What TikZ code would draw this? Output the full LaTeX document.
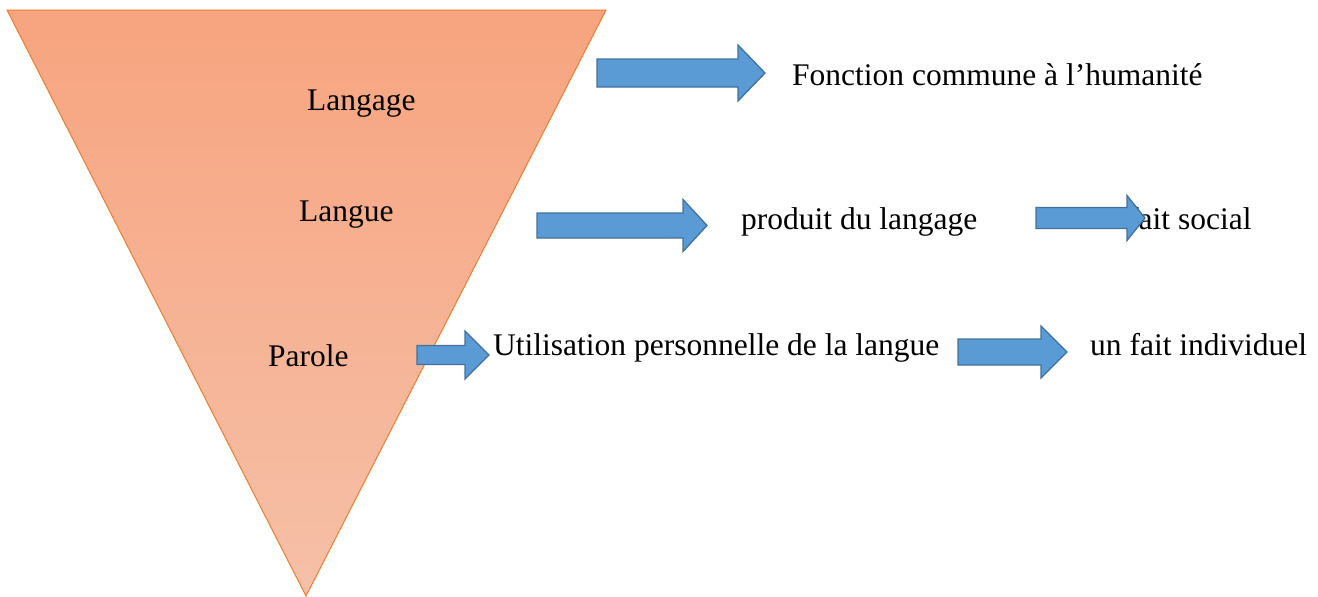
\documentclass[tikz,border=0pt]{standalone}
\usepackage{fontspec}
\setmainfont{Liberation Serif}
\definecolor{triedge}{HTML}{ED7D31}
\definecolor{tritop}{HTML}{F7A47F}
\definecolor{tribot}{HTML}{F6C0A8}
\definecolor{arrfill}{HTML}{5B9BD5}
\definecolor{arredge}{HTML}{41719C}
\tikzset{
  lbl/.style={anchor=base west, inner sep=0pt, font=\fontsize{31.5}{38}\selectfont},
  blockarrow/.style={fill=arrfill, draw=arredge, line width=1.3pt, line join=miter},
  tri/.style={top color=tritop, bottom color=tribot, draw=triedge, line width=1pt}
}
\newcommand\barrow[6]{%
  \draw[blockarrow] (#1,#3-#4) -- (#2-#6,#3-#4) -- (#2-#6,#3-#5) -- (#2,#3) -- (#2-#6,#3+#5) -- (#2-#6,#3+#4) -- (#1,#3+#4) -- cycle;}
\begin{document}
\begin{tikzpicture}[x=1pt,y=-1pt]
\useasboundingbox (0,0) rectangle (1318,597);
% triangle
\draw[tri] (7,10) -- (606,10) -- (306,596) -- cycle;
% labels inside triangle
\node[lbl] (langage) at (307,110) {Langage};
\node[lbl] (langue) at (299,221) {Langue};
\node[lbl] (parole) at (268,366) {Parole};
% right texts
\node[lbl] (fonction) at (792,85) {Fonction commune à l’humanité};
\node[lbl] (produit) at (741,229) {produit du langage};
\node[lbl] (social) at (1128,229) {fait social};
\node[lbl] (utilisation) at (493,355) {Utilisation personnelle de la langue};
\node[lbl] (individuel) at (1090,355) {un fait individuel};
% block arrows
\barrow{597}{765}{73}{14}{28}{27}
\barrow{537}{707}{225.5}{12.5}{26}{24}
\barrow{1036}{1145}{218}{10.5}{22.5}{18}
\barrow{417}{489}{355}{9.5}{24}{24}
\barrow{958}{1067}{352}{13}{26}{26}
\end{tikzpicture}
\end{document}
